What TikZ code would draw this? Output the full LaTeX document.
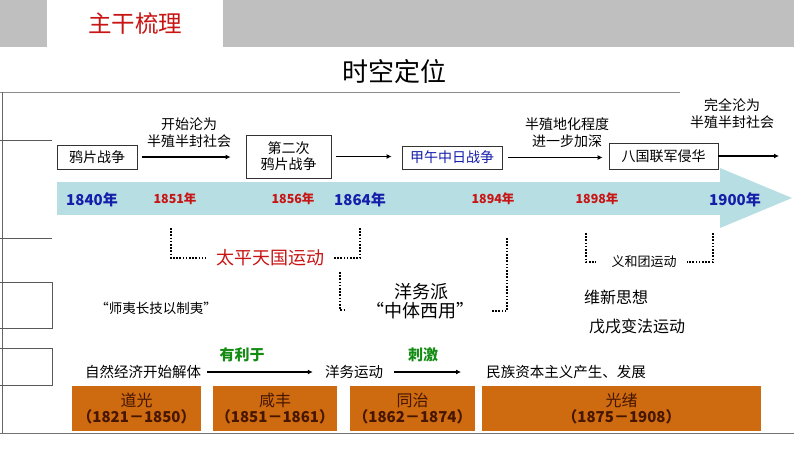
\documentclass[tikz,border=0pt]{standalone}
\usepackage{fontspec}
\setmainfont{Noto Sans CJK SC}
\usepackage{tikz}
\usetikzlibrary{arrows.meta}
\pgfdeclarelayer{background}
\pgfsetlayers{background,main}

\definecolor{bandblue}{RGB}{183,222,226}
\definecolor{eraorange}{RGB}{206,106,16}
\definecolor{erabrown}{RGB}{70,22,0}
\definecolor{headred}{RGB}{200,20,20}
\definecolor{yearblue}{RGB}{20,30,170}
\definecolor{linkgreen}{RGB}{20,140,20}

\newcommand{\fs}[1]{\fontsize{#1}{#1}\selectfont}

\tikzset{
  eventbox/.style={draw=black!80, line width=0.8pt, fill=white, inner sep=0pt, font=\fs{14}},
  flow/.style={line width=1.4pt, -{Latex[length=5pt,width=5pt]}},
  bracket/.style={line width=1.6pt, dash pattern=on 1.6pt off 1.6pt},
  note/.style={align=center, font=\fs{14}, inner sep=0pt},
  plain/.style={inner sep=0pt},
  bluey/.style={text=yearblue, font=\fs{15}\bfseries, inner sep=0pt},
  redy/.style={text=headred, font=\fs{12.5}\bfseries, inner sep=0pt},
  erabox/.style={fill=eraorange, text=erabrown, align=center, inner sep=0pt,
    minimum height=45pt, font=\fs{16}},
  tableline/.style={draw=black!65, line width=0.6pt}
}

\begin{document}
\begin{tikzpicture}[x=1pt,y=-1pt]
\useasboundingbox (0,0) rectangle (794,450);

% header
\fill[black!25] (0,0) rectangle (794,47);
\fill[white] (47,0) rectangle (223,47);
\node[plain] (head) at (135,24) {\fs{23.5}\color{headred}主干梳理};
\node[plain] (title) at (394,72) {\fs{26}时空定位};

% frame and leftover table rules
\draw[black!45, line width=1pt] (0,92) -- (680,92);
\draw[black!60, line width=1pt] (2,92) -- (2,433);
\draw[black!55, line width=1pt] (0,433) -- (794,433);
\draw[tableline] (0,140) -- (52,140);
\draw[tableline] (0,238) -- (52,238);
\draw[tableline] (0,282) -- (52,282) -- (52,328) -- (0,328);
\draw[tableline] (0,348) -- (52,348) -- (52,385) -- (0,385);

% time band
\begin{pgfonlayer}{background}
\fill[bandblue] (57,182) rectangle (720,215);
\fill[bandblue] (720,168) -- (792,198) -- (720,228) -- cycle;
\end{pgfonlayer}
\node[bluey] (y1840) at (92,200) {1840年};
\node[redy] (y1851) at (175,199) {1851年};
\node[redy] (y1856) at (293,199) {1856年};
\node[bluey] (y1864) at (360,200) {1864年};
\node[redy] (y1894) at (493,199) {1894年};
\node[redy] (y1898) at (597,199) {1898年};
\node[bluey] (y1900) at (735,200) {1900年};

% wars
\node[eventbox, minimum width=80pt, minimum height=24pt] (opium) at (97,157) {鸦片战争};
\node[eventbox, minimum width=85pt, minimum height=43pt, align=center] (second) at (288.5,156.5) {第二次\\[2pt]鸦片战争};
\node[eventbox, minimum width=100pt, minimum height=23pt, text=yearblue] (jiawu) at (452,157.5) {甲午中日战争};
\node[eventbox, minimum width=109pt, minimum height=26pt] (eight) at (663.5,156) {八国联军侵华};
\coordinate (end) at (779,156);

\draw[flow, shorten <=5pt, shorten >=15pt] (opium.east) -- (opium.east -| second.west);
\draw[flow, shorten <=5pt, shorten >=10pt] (second.east) -- (second.east -| jiawu.west);
\draw[flow, shorten <=6pt, shorten >=6pt] (jiawu.east) -- (jiawu.east -| eight.west);
\draw[flow] (eight.east) -- (end);

\node[note] (semi1) at (189,133) {开始沦为\\[3pt]半殖半封社会};
\node[note] (semi2) at (567,133) {半殖地化程度\\[3pt]进一步加深};
\node[note] (semi3) at (732,114) {完全沦为\\[3pt]半殖半封社会};

% movements
\node[plain, text=headred, font=\fs{18}] (taiping) at (270,258) {太平天国运动};
\coordinate (tpL) at (171,228);
\coordinate (tpR) at (360,228);
\draw[bracket] (tpL) |- ([xshift=-10pt]taiping.west);
\draw[bracket] (tpR) |- ([xshift=10pt]taiping.east);

\node[plain, font=\fs{13.5}] (shiyi) at (156,308) {“师夷长技以制夷”};
\node[plain, font=\fs{18}] (yangwupai) at (421,292) {洋务派};
\node[plain, font=\fs{18}] (zhongti) at (420,311) {“中体西用”};
\coordinate (ywL) at (340,272);
\coordinate (ywR) at (507,238);
\draw[bracket] (ywL) |- (346,310);
\draw[bracket] (ywR) |- ([xshift=18pt]zhongti.east);

\node[plain, font=\fs{13}] (yihe) at (644,262) {义和团运动};
\coordinate (yhL) at (586,233);
\coordinate (yhR) at (713,233);
\draw[bracket] (yhL) |- ([xshift=-15pt]yihe.west);
\draw[bracket] (yhR) |- ([xshift=10pt]yihe.east);

\node[plain, font=\fs{16}, anchor=west] (weixin) at (584,297) {维新思想};
\node[plain, font=\fs{16}, anchor=west] (wuxu) at (589,326) {戊戌变法运动};

% economy
\node[plain, font=\fs{14.5}] (ziran) at (143,372) {自然经济开始解体};
\node[plain, font=\fs{14.5}] (yangwu) at (354,372) {洋务运动};
\node[plain, font=\fs{14.5}] (minzu) at (566,372) {民族资本主义产生、发展};
\draw[flow, line width=1.1pt, shorten <=6pt, shorten >=12pt] (ziran.east) -- (yangwu.west);
\draw[flow, line width=1.1pt, shorten <=11pt, shorten >=25pt] (yangwu.east) -- (minzu.west);
\node[plain, text=linkgreen, font=\fs{15}\bfseries] (youli) at (242,355) {有利于};
\node[plain, text=linkgreen, font=\fs{15}\bfseries] (ciji) at (423,355) {刺激};

% reigns
\node[erabox, minimum width=129pt] (daoguang) at (136.5,408.5) {道光\\[0pt]{\fs{15}\bfseries （1821－1850）}};
\node[erabox, minimum width=124pt] (xianfeng) at (275,408.5) {咸丰\\[0pt]{\fs{15}\bfseries （1851－1861）}};
\node[erabox, minimum width=125pt] (tongzhi) at (412.5,408.5) {同治\\[0pt]{\fs{15}\bfseries （1862－1874）}};
\node[erabox, minimum width=279pt] (guangxu) at (621.5,408.5) {光绪\\[0pt]{\fs{15}\bfseries （1875－1908）}};
\end{tikzpicture}
\end{document}
